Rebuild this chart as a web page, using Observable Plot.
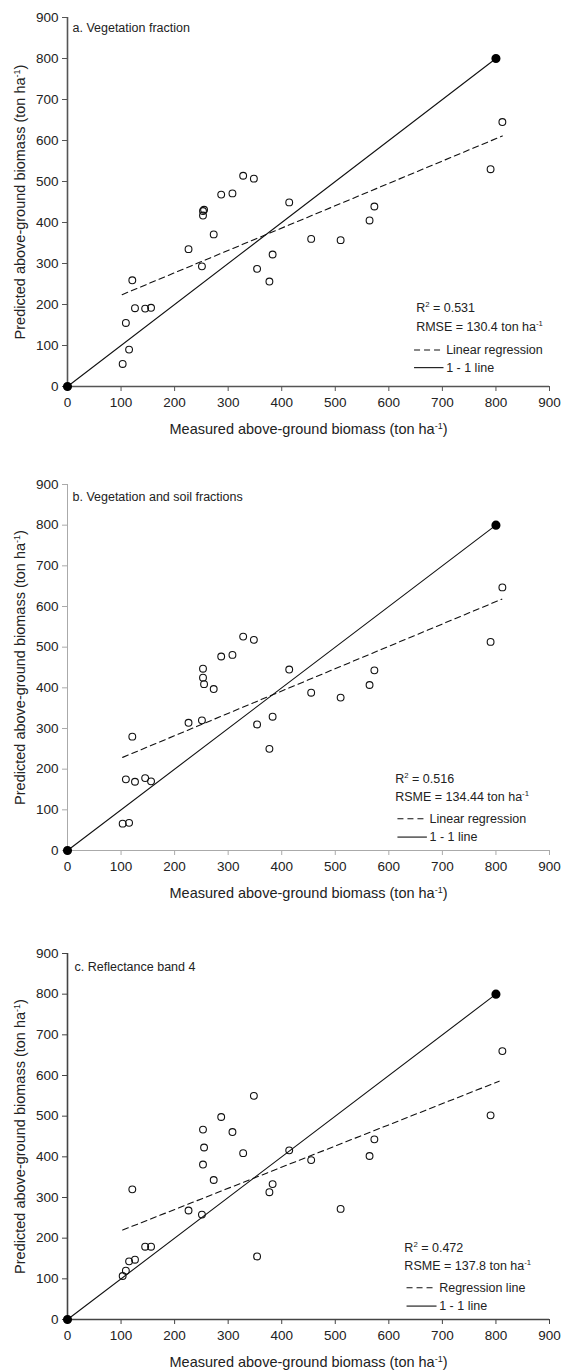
<!DOCTYPE html>
<html>
<head>
<meta charset="utf-8">
<script src="https://cdn.jsdelivr.net/npm/d3@7"></script>
<script src="https://cdn.jsdelivr.net/npm/@observablehq/plot@0.6"></script>
<style>
  html, body { margin: 0; padding: 0; background: #fff; }
  #chart svg { display: block; }
</style>
</head>
<body>
<div id="chart"></div>
<script>
// ---- Data ----
const measured = [103, 109, 115, 121, 126, 145, 156, 226, 251, 253, 253, 255, 273, 287, 308, 328, 348, 354, 377, 383, 414, 455, 510, 564, 573, 790, 812];
const predictedA = [55, 155, 90, 259, 191, 190, 192, 335, 293, 417, 428, 431, 371, 468, 471, 514, 507, 287, 256, 322, 449, 360, 357, 405, 439, 530, 645];
const predictedB = [66, 175, 68, 280, 169, 178, 170, 314, 320, 447, 425, 409, 397, 477, 481, 526, 518, 310, 250, 329, 445, 388, 376, 407, 443, 513, 647];
const predictedC = [107, 120, 143, 320, 147, 179, 179, 268, 258, 381, 467, 423, 343, 498, 461, 409, 550, 155, 313, 333, 416, 392, 272, 402, 443, 502, 660];

const regressionA = [{x: 102, y: 224}, {x: 812, y: 611}];
const regressionB = [{x: 103, y: 229}, {x: 811, y: 618}];
const regressionC = [{x: 103, y: 220}, {x: 806, y: 586}];

const oneToOne = [{x: 0, y: 0}, {x: 800, y: 800}];

const panelTitles = ["a. Vegetation fraction", "b. Vegetation and soil fractions", "c. Reflectance band 4"];
const r2Labels = ["R² = 0.531", "R² = 0.516", "R² = 0.472"];
const errorLabels = ["RMSE = 130.4 ton ha⁻¹", "RSME = 134.44 ton ha⁻¹", "RSME = 137.8 ton ha⁻¹"];
const regressionLabels = ["Linear regression", "Linear regression", "Regression line"];
const oneToOneLabel = "1 - 1 line";
const axisTicks = [0, 100, 200, 300, 400, 500, 600, 700, 800, 900];
const xTitle = "Measured above-ground biomass (ton ha⁻¹)";
const yTitle = "Predicted above-ground biomass (ton ha⁻¹)";

// ---- Layout per panel ----
const panels = [
  {pred: predictedA, reg: regressionA, height: 468, mt: 17, mb: 82, axisColor: "#555", axisWidth: 1.6,
   titleDx: 5, titleDy: 10,
   leg: {tx: 651, s0: 648, s1: 703, lx: 707, y: [191, 146, 89, 46]}},
  {pred: predictedB, reg: regressionB, height: 468, mt: 16, mb: 86, axisColor: "#aaa", axisWidth: 1,
   titleDx: 5, titleDy: 12,
   leg: {tx: 612, s0: 617, s1: 672, lx: 676, y: [175, 132, 78, 33]}},
  {pred: predictedC, reg: regressionC, height: 436, mt: 17, mb: 53, axisColor: "#444", axisWidth: 1.6,
   titleDx: 7, titleDy: 13,
   leg: {tx: 629, s0: 634, s1: 690, lx: 694, y: [176, 132, 78, 33]}}
];

const font = "'Liberation Sans', Arial, Helvetica, sans-serif";
const textColor = "#222";

function supify(svg) {
  const ns = "http://www.w3.org/2000/svg";
  svg.querySelectorAll("text").forEach(t => {
    if (t.children.length) return;
    const s = t.textContent;
    const m = s.match(/^(.*?)(⁻¹|²)(.*)$/);
    if (!m) return;
    t.textContent = "";
    const a = document.createElementNS(ns, "tspan");
    a.textContent = m[1];
    const b = document.createElementNS(ns, "tspan");
    b.setAttribute("dy", "-5");
    b.setAttribute("font-size", "0.62em");
    b.textContent = m[2] === "²" ? "2" : "-1";
    const c = document.createElementNS(ns, "tspan");
    c.setAttribute("dy", "5");
    c.textContent = m[3];
    t.append(a, b, c);
  });
}

const container = document.getElementById("chart");

panels.forEach((p, i) => {
  const points = measured.map((m, j) => ({x: m, y: p.pred[j]}));
  const L = p.leg;
  const chart = Plot.plot({
    width: 562,
    height: p.height,
    marginLeft: 67,
    marginRight: 13,
    marginTop: p.mt,
    marginBottom: p.mb,
    x: {domain: [0, 900]},
    y: {domain: [0, 900]},
    style: {fontFamily: font, fontSize: "13px", color: textColor, background: "#fff"},
    marks: [
      Plot.axisX({ticks: axisTicks, tickSize: 5, tickPadding: 6, label: null, stroke: p.axisColor, fontSize: 13.5}),
      Plot.axisY({ticks: axisTicks, tickSize: 5, tickPadding: 4, label: null, stroke: p.axisColor, fontSize: 13.5}),
      Plot.ruleY([0], {stroke: p.axisColor, strokeWidth: p.axisWidth}),
      Plot.ruleX([0], {stroke: p.axisColor, strokeWidth: p.axisWidth}),
      Plot.line(oneToOne, {x: "x", y: "y", stroke: "#111", strokeWidth: 1.1}),
      Plot.line(p.reg, {x: "x", y: "y", stroke: "#111", strokeWidth: 1.1, strokeDasharray: "6,4"}),
      Plot.dot(points, {x: "x", y: "y", r: 3.4, stroke: "#111", strokeWidth: 1.1, fill: "none"}),
      Plot.dot(oneToOne, {x: "x", y: "y", r: 3.8, fill: "#000", stroke: "#000"}),
      // panel title
      Plot.text([panelTitles[i]], {frameAnchor: "top-left", dx: p.titleDx, dy: p.titleDy, lineAnchor: "middle", textAnchor: "start", fontSize: 12.5, fill: textColor}),
      // legend
      Plot.text([r2Labels[i]], {x: L.tx, y: L.y[0], textAnchor: "start", lineAnchor: "middle", fontSize: 12.5, fill: textColor}),
      Plot.text([errorLabels[i]], {x: L.tx, y: L.y[1], textAnchor: "start", lineAnchor: "middle", fontSize: 12.5, fill: textColor}),
      Plot.ruleY([L.y[2]], {x1: L.s0, x2: L.s1, stroke: "#111", strokeWidth: 1.1, strokeDasharray: "6,4"}),
      Plot.text([regressionLabels[i]], {x: L.lx, y: L.y[2], textAnchor: "start", lineAnchor: "middle", fontSize: 12.5, fill: textColor}),
      Plot.ruleY([L.y[3]], {x1: L.s0, x2: L.s1, stroke: "#111", strokeWidth: 1.1}),
      Plot.text([oneToOneLabel], {x: L.lx, y: L.y[3], textAnchor: "start", lineAnchor: "middle", fontSize: 12.5, fill: textColor}),
      // axis titles
      Plot.text([xTitle], {frameAnchor: "bottom", dy: 43, lineAnchor: "middle", textAnchor: "middle", fontSize: 14.5, fill: textColor}),
      Plot.text([yTitle], {frameAnchor: "left", dx: -47, rotate: -90, lineAnchor: "middle", textAnchor: "middle", fontSize: 14.5, fill: textColor})
    ]
  });
  supify(chart);
  container.appendChild(chart);
});
</script>
</body>
</html>
